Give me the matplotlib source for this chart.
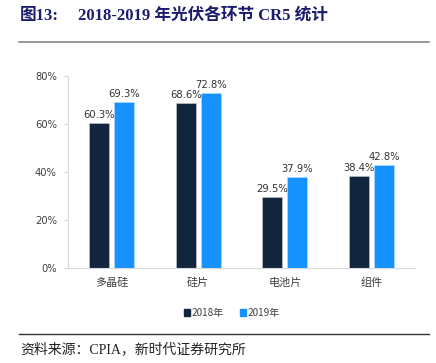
import matplotlib
matplotlib.use("Agg")
import matplotlib.pyplot as plt
from matplotlib.lines import Line2D
from matplotlib.patches import Patch
import numpy as np

categories = ["多晶硅", "硅片", "电池片", "组件"]
series_names = ["2018年", "2019年"]
v2018 = [60.3, 68.6, 29.5, 38.4]
v2019 = [69.3, 72.8, 37.9, 42.8]
yticks = [0, 20, 40, 60, 80]

plt.rcParams['font.family'] = ['Noto Sans CJK SC', 'DejaVu Sans']
serif = ['Liberation Serif', 'Noto Sans CJK SC']

W, H = 436, 363
fig = plt.figure(figsize=(W / 100, H / 100), dpi=100)

def px(x0, y0, x1, y1):
    return [x0 / W, 1 - y1 / H, (x1 - x0) / W, (y1 - y0) / H]

ax = fig.add_axes(px(68, 76, 415, 268))
c1, c2 = "#12253f", "#1592ff"
x = np.arange(len(categories))
w, off = 0.23, 0.143
b1 = ax.bar(x - off, v2018, w, color=c1, edgecolor="#c8ccd2", linewidth=0.4, label=series_names[0])
b2 = ax.bar(x + off, v2019, w, color=c2, edgecolor="#b8dcff", linewidth=0.4, label=series_names[1])
for bars, vals in ((b1, v2018), (b2, v2019)):
    for r, v in zip(bars, vals):
        ax.text(r.get_x() + r.get_width() / 2, v + 1.2, f"{v:.1f}%", ha="center", va="bottom",
                fontsize=7.2, color="#333333", family=["DejaVu Sans"])

ax.set_xlim(-0.5, len(categories) - 0.5)
ax.set_ylim(0, 80)
ax.set_yticks(yticks)
ax.set_yticklabels([f"{t}%" for t in yticks], family=["DejaVu Sans"])
ax.set_xticks(x)
ax.set_xticklabels(categories)
ax.tick_params(axis="y", length=3, color="#d9d9d9", labelsize=7.2, labelcolor="#404040", pad=5)
ax.tick_params(axis="x", length=0, labelsize=8, labelcolor="#404040", pad=7)
for s in ("top", "right"):
    ax.spines[s].set_visible(False)
ax.spines["left"].set_color("#d9d9d9")
ax.spines["bottom"].set_color("#d9d9d9")
ax.spines["left"].set_linewidth(0.8)
ax.spines["bottom"].set_linewidth(0.8)

handles = [Patch(color=c1), Patch(color=c2)]
fig.legend(handles, series_names, loc="center", bbox_to_anchor=(232 / W, 1 - 313 / H), ncol=2,
           frameon=False, fontsize=7.2, handlelength=0.6, handleheight=0.6, handletextpad=0.2,
           columnspacing=1.6, labelcolor="#404040")

fig.text(20 / W, 1 - 16 / H, "图13:", fontsize=12, fontweight="bold", color="#1c1c6e", va="center",
         ha="left", family=serif)
fig.text(78 / W, 1 - 16 / H, "2018-2019 年光伏各环节 CR5 统计", fontsize=12, fontweight="bold",
         color="#1c1c6e", va="center", ha="left", family=serif)
fig.add_artist(Line2D([19 / W, 429 / W], [1 - 42 / H, 1 - 42 / H], color="#888888", lw=1.2))
fig.add_artist(Line2D([19 / W, 429 / W], [1 - 334 / H, 1 - 334 / H], color="#333333", lw=1.0))
fig.text(20 / W, 1 - 349 / H, "资料来源：CPIA，新时代证券研究所", fontsize=10, color="#222222",
         va="center", ha="left", family=serif)

fig.savefig("out.png", dpi=100)
